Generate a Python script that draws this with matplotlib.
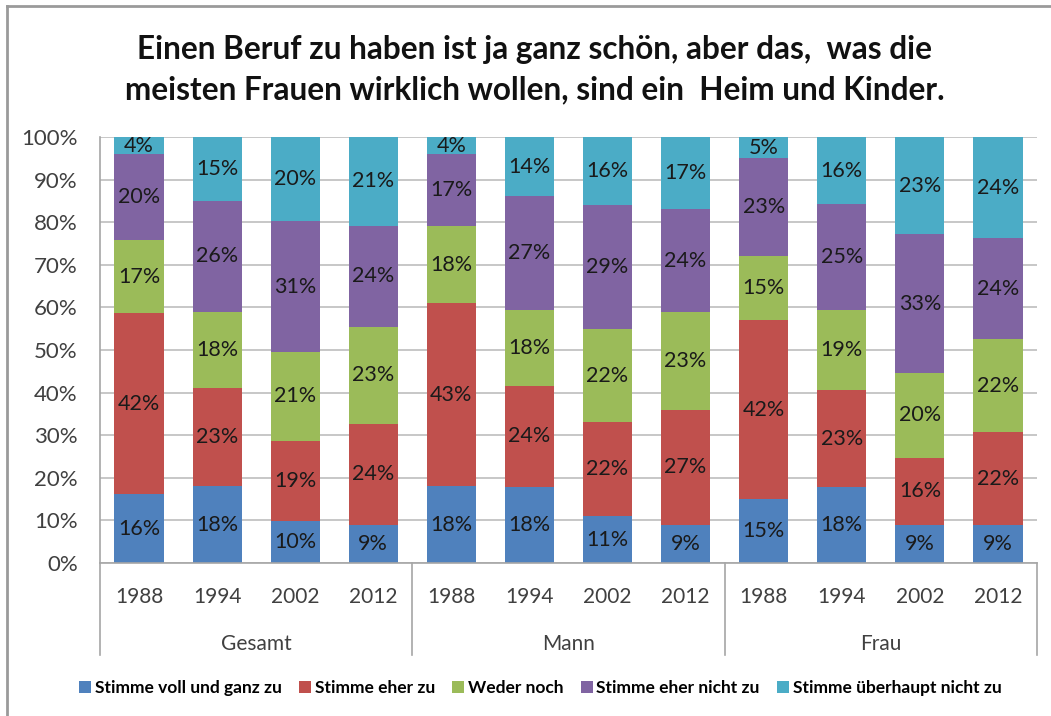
import numpy as np
import matplotlib.pyplot as plt
from matplotlib.lines import Line2D
from matplotlib.patches import Patch
import matplotlib.transforms as mtransforms

plt.rcParams["font.family"] = ["Lato", "DejaVu Sans"]

years = ["1988", "1994", "2002", "2012"]
groups = ["Gesamt", "Mann", "Frau"]
series = ["Stimme voll und ganz zu", "Stimme eher zu", "Weder noch",
          "Stimme eher nicht zu", "Stimme überhaupt nicht zu"]
colors = ["#4F81BD", "#C0504D", "#9BBB59", "#8064A2", "#4BACC6"]

# Werte je Balken (Gesamt 1988..2012, Mann 1988..2012, Frau 1988..2012)
voll = [16, 18, 10, 9, 18, 18, 11, 9, 15, 18, 9, 9]
eher = [42, 23, 19, 24, 43, 24, 22, 27, 42, 23, 16, 22]
weder = [17, 18, 21, 23, 18, 18, 22, 23, 15, 19, 20, 22]
eher_nicht = [20, 26, 31, 24, 17, 27, 29, 24, 23, 25, 33, 24]
gar_nicht = [4, 15, 20, 21, 4, 14, 16, 17, 5, 16, 23, 24]

data = np.array([voll, eher, weder, eher_nicht, gar_nicht], dtype=float)
shares = data / data.sum(axis=0)  # 100%-gestapelt

fig = plt.figure(figsize=(10.51, 7.16), dpi=100)
ax = fig.add_axes([100 / 1051, 1 - 563 / 716, 937 / 1051, 426 / 716])

x = np.arange(len(voll))
bottom = np.zeros(len(voll))
for i in range(len(series)):
    ax.bar(x, shares[i], bottom=bottom, width=0.63, color=colors[i], zorder=2)
    for xi, b, h, v in zip(x, bottom, shares[i], data[i]):
        ax.text(xi, b + h / 2, f"{int(v)}%", ha="center", va="center",
                fontsize=15.5, color="#1a1a1a", zorder=3)
    bottom += shares[i]

ax.set_xlim(-0.5, len(voll) - 0.5)
ax.set_ylim(0, 1)
ax.set_yticks(np.arange(0, 1.01, 0.1))
ax.set_yticklabels([f"{int(round(t * 100))}%" for t in np.arange(0, 1.01, 0.1)],
                   fontsize=16, color="#404040")
ax.yaxis.grid(True, color="#BDBDBD", linewidth=1.2, zorder=0)
ax.set_axisbelow(True)
ax.set_xticks(x)
ax.set_xticklabels(years * 3, fontsize=15, color="#404040")
ax.tick_params(axis="x", length=0, pad=17)
ax.tick_params(axis="y", length=0, pad=16)
for s in ["top", "right"]:
    ax.spines[s].set_visible(False)
for s in ["left", "bottom"]:
    ax.spines[s].set_color("#A6A6A6")
    ax.spines[s].set_linewidth(1.2)

# Gruppenbeschriftung und Trennlinien unter der Achse
trans = mtransforms.blended_transform_factory(ax.transData, ax.transAxes)
for k in range(4):
    ax.add_line(Line2D([k * 4 - 0.5] * 2, [0, -0.216], transform=trans,
                       color="#A6A6A6", linewidth=1.2, clip_on=False))
for k, g in enumerate(groups):
    ax.text(k * 4 + 1.5, -0.19, g, transform=trans, ha="center", va="center",
            fontsize=15, color="#404040")

fig.text(0.509, 1 - 50 / 716, "Einen Beruf zu haben ist ja ganz schön, aber das,  was die",
         ha="center", va="center", fontsize=22.7, fontweight="bold", color="#111111")
fig.text(0.509, 1 - 90 / 716, "meisten Frauen wirklich wollen, sind ein  Heim und Kinder.",
         ha="center", va="center", fontsize=22.7, fontweight="bold", color="#111111")

handles = [Patch(facecolor=c, edgecolor="none") for c in colors]
fig.legend(handles, series, loc="center", bbox_to_anchor=(0.514, 1 - 688 / 716),
           ncol=5, frameon=False, handlelength=0.7, handleheight=0.7,
           handletextpad=0.2, columnspacing=1.0, prop={"weight": "bold", "size": 12.5})

# Rahmen links und oben
fig.add_artist(Line2D([7 / 1051, 7 / 1051], [0, 1 - 6 / 716], transform=fig.transFigure,
                      color="#9A9A9A", linewidth=2))
fig.add_artist(Line2D([7 / 1051, 1], [1 - 6 / 716, 1 - 6 / 716], transform=fig.transFigure,
                      color="#9A9A9A", linewidth=2))

fig.savefig("out.png", dpi=100)
